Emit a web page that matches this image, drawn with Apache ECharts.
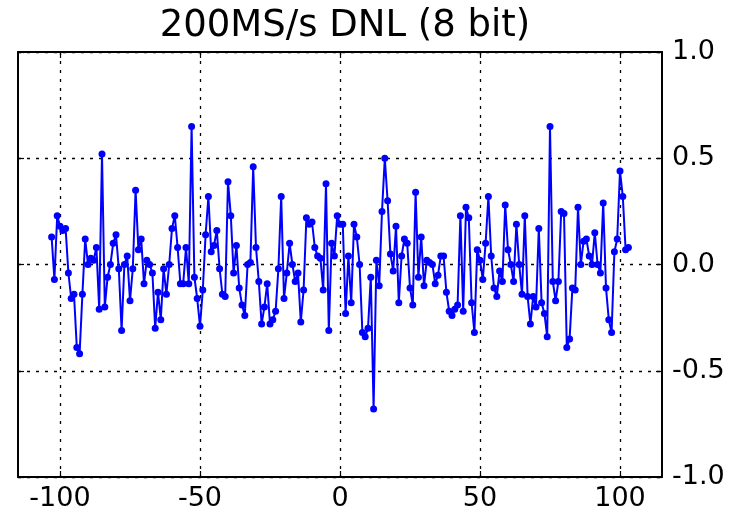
<!DOCTYPE html>
<html>
<head>
<meta charset="utf-8">
<script src="https://cdn.jsdelivr.net/npm/echarts@6/dist/echarts.min.js"></script>
<style>
  html, body { margin: 0; padding: 0; background: #fff; }
  #dnl-chart { width: 741px; height: 515px; }
</style>
</head>
<body>
<div id="dnl-chart"></div>
<script>
const titleText = '200MS/s DNL (8 bit)'
// output codes run from -103 to 103, one DNL value per code
const firstCode = -103
const dnl = [
  0.13, -0.07, 0.23, 0.18, 0.16, 0.17, -0.04, -0.16, -0.14, -0.39,
  -0.42, -0.14, 0.12, 0.0, 0.03, 0.02, 0.08, -0.21, 0.52, -0.2,
  -0.06, 0.0, 0.1, 0.14, -0.02, -0.31, 0.0, 0.04, -0.17, -0.02,
  0.35, 0.07, 0.12, -0.09, 0.02,
  0.0, -0.04, -0.3, -0.13, -0.26, -0.02, -0.14, 0.0, 0.17, 0.23,
  0.08, -0.09, -0.09, 0.08, -0.09, 0.65,
  -0.06, -0.16, -0.29, -0.12, 0.14, 0.32, 0.06, 0.09, 0.16, -0.02,
  -0.14, -0.15, 0.39, 0.23, -0.04, 0.09, -0.11, -0.19, -0.24, 0.0,
  0.01,
  0.46, 0.08, -0.08, -0.28, -0.2, -0.09, -0.28, -0.26, -0.22, -0.02,
  0.32, -0.16, -0.04, 0.1, 0.0, -0.08, -0.04, -0.27, -0.12, 0.22,
  0.19, 0.2, 0.08, 0.04, 0.03, -0.12, 0.38, -0.31, 0.1, 0.04,
  0.23, 0.19, 0.19, -0.23, 0.04, -0.18, 0.19,
  0.13, 0.0, -0.32, -0.34, -0.3, -0.06, -0.68, 0.02, -0.1, 0.25,
  0.5, 0.3, 0.05, -0.03, 0.18, -0.18, 0.04, 0.12, 0.1, -0.11,
  -0.19, 0.34, -0.06, 0.13, -0.1, 0.02, 0.01, 0.0, -0.09, -0.05,
  0.04, 0.04, -0.13, -0.22, -0.24, -0.21, -0.19, 0.23, -0.22, 0.27,
  0.22, -0.18, -0.32, 0.07, 0.02, -0.07, 0.1, 0.32, 0.04, -0.11,
  -0.15, -0.03, -0.08, 0.28, 0.07, 0.0, -0.08, 0.19, 0.0, -0.14,
  0.23, -0.15, -0.28, -0.15, -0.2, 0.17, -0.18, -0.23, -0.34, 0.65,
  -0.08, -0.17, -0.08,
  0.25, 0.24, -0.39, -0.35, -0.11, -0.12, 0.27, 0.0, 0.11, 0.12,
  0.04, 0.0, 0.15, 0.0, -0.04, 0.29, -0.11, -0.26, -0.32, 0.06,
  0.12, 0.44, 0.32, 0.07, 0.08
]
const xTicks = [-100, -50, 0, 50, 100]
const xMin = -115
const xMax = 115
const yMin = -1
const yMax = 1
const yStep = 0.5

const points = dnl.map((v, i) => [firstCode + i, v])

const fontFamily = 'DejaVu Sans'
const frameLine = { show: true, onZero: false, lineStyle: { color: '#000', width: 2 } }
const tickStyle = { show: true, inside: true, length: 6, lineStyle: { color: '#000', width: 1.2 } }
const gridLine = { show: true, lineStyle: { color: '#000', width: 1.3, type: [3, 6] } }

const chart = echarts.init(document.getElementById('dnl-chart'))
chart.setOption({
  animation: false,
  backgroundColor: '#fff',
  title: {
    text: titleText,
    left: 340,
    textAlign: 'center',
    top: 3,
    textStyle: { fontFamily, fontSize: 37, fontWeight: 'normal', color: '#000' }
  },
  grid: { left: 18, right: 79, top: 52, bottom: 38 },
  xAxis: [
    {
      type: 'value', position: 'bottom', min: xMin, max: xMax,
      axisLine: frameLine,
      axisTick: Object.assign({ customValues: xTicks }, tickStyle),
      axisLabel: {
        customValues: xTicks, margin: 8, color: '#000',
        fontFamily, fontSize: 27
      },
      splitLine: gridLine
    },
    {
      type: 'value', position: 'top', min: xMin, max: xMax,
      axisLine: frameLine,
      axisTick: Object.assign({ customValues: xTicks }, tickStyle),
      axisLabel: { show: false },
      splitLine: { show: false }
    }
  ],
  yAxis: [
    {
      type: 'value', position: 'right', min: yMin, max: yMax, interval: yStep,
      axisLine: frameLine,
      axisTick: tickStyle,
      axisLabel: {
        margin: 10, color: '#000', fontFamily, fontSize: 27,
        formatter: v => v.toFixed(1)
      },
      splitLine: gridLine
    },
    {
      type: 'value', position: 'left', min: yMin, max: yMax, interval: yStep,
      axisLine: frameLine,
      axisTick: tickStyle,
      axisLabel: { show: false },
      splitLine: { show: false }
    }
  ],
  series: [
    {
      type: 'line',
      data: points,
      symbol: 'circle',
      symbolSize: 7,
      color: '#0000ff',
      lineStyle: { color: '#0000ff', width: 2 },
      itemStyle: { color: '#0000ff' },
      z: 5
    }
  ]
})
</script>
</body>
</html>
